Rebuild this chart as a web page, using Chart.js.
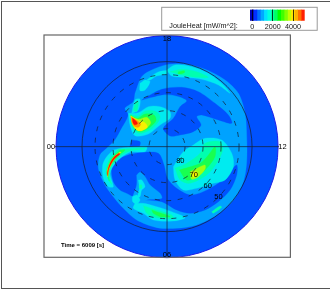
<!DOCTYPE html>
<html><head><meta charset="utf-8">
<script src="https://cdn.jsdelivr.net/npm/chart.js@4"></script>
<style>
html,body{margin:0;padding:0;background:#fff;width:330px;height:290px;overflow:hidden}
#wrap{position:absolute;left:0;top:0;width:330px;height:290px;filter:blur(0.75px)}
#pageBorder{position:absolute;left:1px;top:1px;width:340px;height:286px;border:1px solid #555}
canvas{position:absolute;display:block}
</style></head><body>
<div id="wrap">
<div id="pageBorder"></div>
<canvas id="main" width="330" height="290" style="left:0;top:0"></canvas>
<canvas id="bar" width="80" height="28" style="left:240px;top:5px"></canvas>
</div>
<script>
// Polar grid (units: 54 = 10 degrees of colatitude, centred on the pole)
const discRadius = 333, solidRingRadius = 255;
const ringRadii = [54, 108, 162, 216];
const ringLabels = [["80",40,-42],["70",80,-85],["60",122,-118],["50",154,-151]];
const hourLabels = [["18",0,323],["06",0,-325],["00",-348,-1],["12",346,-1]];

// Colour bar
const barTicks = [0, 2000, 4000];
const barEdges = [-230,110,450,780,1120,1450,1790,2120,2450,2790,3120,3460,3790,4130,4460,4800,5150];
const barColors = ["#0000b8","#0030ff","#0070ff","#00a8ff","#00e0ff","#00ffe0","#00ffa0","#00ff60","#00ff00","#40ff00","#80ff00","#c0ff00","#ffe800","#ffb000","#ff7000","#ff2000"];

// Contours of Joule heat
const lowOuter = [[-96,160],[-76,210],[-46,230],[-1,246],[54,248],[114,232],[174,200],[214,160],[234,100],[239,30],[239,-45],[229,-105],[199,-160],[149,-205],[89,-235],[29,-245],[-31,-243],[-91,-220],[-131,-185],[-161,-150],[-186,-115],[-206,-65],[-201,-25],[-181,-5],[-156,20],[-136,55],[-116,95],[-126,115],[-101,135]];
const holeUpper = [[-76,140],[-16,172],[44,178],[94,165],[144,130],[184,95],[194,70],[154,80],[104,95],[89,90],[102,65],[79,45],[39,35],[9,32],[-11,55],[19,85],[39,120],[59,138],[29,152],[-11,156],[-46,148]];
const holeSmall = [[-106,20],[-81,15],[-86,-5],[-111,-5]];
const holeLower = [[-111,-23],[-66,-17],[-26,-20],[-9,-55],[1,-95],[29,-125],[69,-145],[109,-135],[154,-110],[189,-75],[209,-55],[209,-85],[189,-130],[154,-165],[114,-190],[69,-200],[29,-190],[-16,-165],[-66,-160],[-101,-150],[-121,-140],[-141,-130],[-161,-105],[-166,-65],[-151,-40]];
const lowLump = [[-91,-85],[-81,-77],[-66,-90],[-51,-115],[-21,-140],[-16,-155],[-61,-160],[-81,-175],[-106,-165],[-101,-145],[-91,-115]];

const midTopArc = [[-1,230],[24,245],[74,240],[124,220],[169,185],[189,160],[154,185],[104,202],[54,208],[14,212]];
const midLeftArc = [[-61,200],[-31,222],[-1,228],[-1,218],[-31,212],[-51,200]];
const midLobe = [[-81,190],[-66,200],[-51,195],[-66,170],[-81,168]];
const midSpot = [[-116,100],[-86,102],[-56,120],[-21,120],[9,105],[9,85],[-21,65],[-56,38],[-96,33],[-111,65]];
const midSpur = [[-106,100],[-96,140],[-81,142],[-86,110]];
const midCrescent = [[-161,-10],[-131,-3],[-61,0],[-66,-15],[-111,-17],[-151,-45],[-171,-80],[-161,-120],[-176,-120],[-191,-95],[-193,-55],[-181,-30]];
const midBlob = [[19,-60],[49,-15],[79,5],[114,25],[164,20],[194,-20],[199,-60],[174,-100],[139,-110],[89,-125],[49,-130],[24,-100]];
const midBottom = [[-96,-170],[-71,-170],[-31,-180],[14,-195],[54,-213],[19,-223],[-41,-220],[-71,-200],[-101,-185]];
const midLump = [[-86,-100],[-76,-100],[-66,-120],[-76,-130],[-81,-150],[-88,-150],[-83,-125]];
const midDot = [[-104,-150],[-91,-145],[-81,-160],[-91,-172],[-103,-165]];

const highTopArc = [[9,225],[44,232],[89,225],[124,208],[89,208],[44,215]];
const highSpot = [[-111,97],[-86,92],[-66,107],[-36,107],[-21,92],[-26,75],[-51,50],[-86,40],[-106,62]];
const highSpur = [[-101,110],[-93,135],[-86,135],[-91,105]];
const highCrescent = [[-146,-7],[-126,-7],[-81,-5],[-66,-7],[-111,-13],[-146,-33],[-169,-65],[-171,-95],[-166,-113],[-176,-100],[-183,-70],[-171,-35]];
const highBlob = [[24,-65],[59,-50],[99,-20],[114,10],[159,15],[167,-10],[149,-50],[119,-85],[69,-110],[39,-100]];
const highBottom = [[-71,-177],[-31,-190],[14,-205],[19,-215],[-31,-213],[-61,-200]];
const highFleck = [[-83,-115],[-76,-115],[-76,-125],[-83,-125]];
const highSliver = [[134,-195],[159,-178],[164,-182],[139,-200]];

const greenTop = [[34,225],[52,228],[52,222],[34,218]];
const greenSpot = [[-109,94],[-89,85],[-66,98],[-39,95],[-33,78],[-56,55],[-81,45],[-101,60]];
const greenCrescent = [[-141,-10],[-126,-10],[-146,-28],[-171,-60],[-176,-90],[-173,-103],[-181,-75],[-166,-35]];
const greenBlob = [[37,-70],[64,-62],[99,-50],[124,-25],[144,0],[144,-30],[119,-65],[89,-90],[59,-100]];
const greenBottom = [[-46,-190],[-16,-200],[9,-210],[-21,-210],[-41,-200]];

const limeSpot = [[-108,92],[-86,82],[-61,88],[-49,72],[-63,55],[-86,48],[-103,65]];
const yellowSpot = [[-109,92],[-86,78],[-66,72],[-59,58],[-76,48],[-91,50],[-103,68]];
const limeCrescent = [[-143,-17],[-138,-17],[-156,-35],[-173,-65],[-178,-90],[-179,-70],[-163,-35]];
const limeBlob = [[69,-75],[99,-60],[114,-55],[114,-68],[94,-90],[74,-98]];
const yellowBlob = [[74,-75],[89,-75],[91,-85],[79,-92]];
const orangeSpot = [[-108,90],[-89,78],[-79,68],[-86,58],[-99,62],[-106,75]];
const redSpot = [[-104,86],[-91,75],[-89,68],[-98,66],[-103,75]];
const redCrescent = [[-145,-20],[-141,-22],[-158,-37],[-174,-65],[-178,-87],[-179,-78],[-174,-57],[-161,-33]];

const BASE="#0052ff", LOW="#00a2ff", MID="#00ebf0", HIGH="#00ffb0", GREEN="#18ff50", LIME="#a0ff10", YELLOW="#f8f000", ORANGE="#ff9800", RED="#ff1000";
const layers = [
 [lowOuter,LOW],[holeUpper,BASE],[holeSmall,BASE],[holeLower,BASE],[lowLump,LOW],
 [midTopArc,MID],[midLeftArc,MID],[midLobe,MID],[midSpot,MID],[midSpur,MID],[midCrescent,MID],[midBlob,MID],[midBottom,MID],[midLump,MID],[midDot,MID],
 [highTopArc,HIGH],[highSpot,HIGH],[highSpur,HIGH],[highCrescent,HIGH],[highBlob,HIGH],[highBottom,HIGH],[highFleck,HIGH],[highSliver,HIGH],
 [greenTop,GREEN],[greenSpot,GREEN],[greenCrescent,GREEN],[greenBlob,GREEN],[greenBottom,GREEN],
 [limeSpot,LIME],[yellowSpot,YELLOW],[limeCrescent,YELLOW],[limeBlob,LIME],[yellowBlob,YELLOW],[orangeSpot,ORANGE],[redSpot,RED],[redCrescent,RED]
];
const datasets = layers.map(([pts,color],i)=>{
  const data = pts.concat([pts[0]]).map(([x,y])=>({x,y}));
  return {data, showLine:true, fill:'shape', backgroundColor:color, borderColor:color, borderWidth:0.3,
    pointRadius:0, tension:0.3, order:layers.length-i};
});

const polarGrid = {
  id:'polarGrid',
  beforeDatasetsDraw(chart){
    const {ctx,scales:{x,y}}=chart;
    const cx=x.getPixelForValue(0), cy=y.getPixelForValue(0);
    const k=v=>Math.abs(x.getPixelForValue(v)-cx);
    ctx.save();
    ctx.beginPath();ctx.arc(cx,cy,k(discRadius),0,Math.PI*2);
    ctx.fillStyle=BASE;ctx.fill();
    ctx.strokeStyle="#1a1ae8";ctx.lineWidth=1;ctx.stroke();
    ctx.restore();
  },
  afterDatasetsDraw(chart){
    const {ctx,chartArea:a,scales:{x,y}}=chart;
    const cx=x.getPixelForValue(0), cy=y.getPixelForValue(0);
    const k=v=>Math.abs(x.getPixelForValue(v)-cx);
    ctx.save();
    ctx.strokeStyle="#14213a";ctx.lineWidth=0.75;
    ctx.setLineDash([5,6.5]);
    ringRadii.forEach(r=>{ctx.beginPath();ctx.arc(cx,cy,k(r),0,Math.PI*2);ctx.stroke();});
    ctx.setLineDash([]);
    ctx.beginPath();ctx.arc(cx,cy,k(solidRingRadius),0,Math.PI*2);ctx.stroke();
    ctx.beginPath();
    ctx.moveTo(x.getPixelForValue(-336),cy);ctx.lineTo(x.getPixelForValue(336),cy);
    ctx.moveTo(cx,y.getPixelForValue(332));ctx.lineTo(cx,y.getPixelForValue(-332));
    ctx.stroke();
    // frame
    ctx.strokeStyle="#666";ctx.lineWidth=1.2;
    ctx.strokeRect(a.left,a.top,a.right-a.left,a.bottom-a.top);
    // texts
    ctx.fillStyle="#000";ctx.textAlign="center";ctx.textBaseline="middle";
    ctx.font="7.5px 'Liberation Sans'";
    hourLabels.forEach(([t,u,v])=>ctx.fillText(t,x.getPixelForValue(u),y.getPixelForValue(v)));
    ringLabels.forEach(([t,u,v])=>ctx.fillText(t,x.getPixelForValue(u),y.getPixelForValue(v)));
    ctx.font="bold 6px 'Liberation Sans'";ctx.textAlign="left";
    ctx.fillText("Time = 6009 [s]",61,245.7);
    // legend box
    ctx.strokeStyle="#999";ctx.lineWidth=1;
    ctx.strokeRect(161.7,7.3,155.5,23);
    ctx.font="7.2px 'Liberation Sans'";ctx.fillStyle="#111";
    ctx.fillText("JouleHeat [mW/m^2]:",169.3,26.2);
    ctx.restore();
  }
};

new Chart(document.getElementById('main'),{
  type:'scatter',
  data:{datasets},
  plugins:[polarGrid],
  options:{
    responsive:false,animation:false,devicePixelRatio:1,
    layout:{padding:{left:44,right:39.6,top:35,bottom:32.7}},
    plugins:{legend:{display:false},tooltip:{enabled:false}},
    scales:{
      x:{type:'linear',min:-369,max:370,display:false},
      y:{type:'linear',min:-332,max:335,display:false}
    }
  }
});

new Chart(document.getElementById('bar'),{
  type:'bar',
  data:{labels:[''],datasets:barColors.map((c,i)=>({data:[[barEdges[i],barEdges[i+1]]],backgroundColor:c,borderWidth:0,grouped:false,barPercentage:1,categoryPercentage:1}))},
  options:{
    indexAxis:'y',responsive:false,animation:false,devicePixelRatio:1,
    layout:{padding:{left:10,right:15.3,top:4.5,bottom:0}},
    plugins:{legend:{display:false},tooltip:{enabled:false}},
    scales:{
      x:{type:'linear',min:-230,max:5150,
        afterBuildTicks(s){s.ticks=barTicks.map(value=>({value}));},
        afterFit(s){s.height=12.3;},
        grid:{z:1,color:"#000",lineWidth:0.8,drawTicks:false,drawOnChartArea:true},border:{display:false},
        ticks:{color:"#111",font:{size:7.2,family:"'Liberation Sans'"},padding:2,maxRotation:0,autoSkip:false,callback:v=>String(v)}},
      y:{display:false}
    }
  }
});
</script>
</body></html>
